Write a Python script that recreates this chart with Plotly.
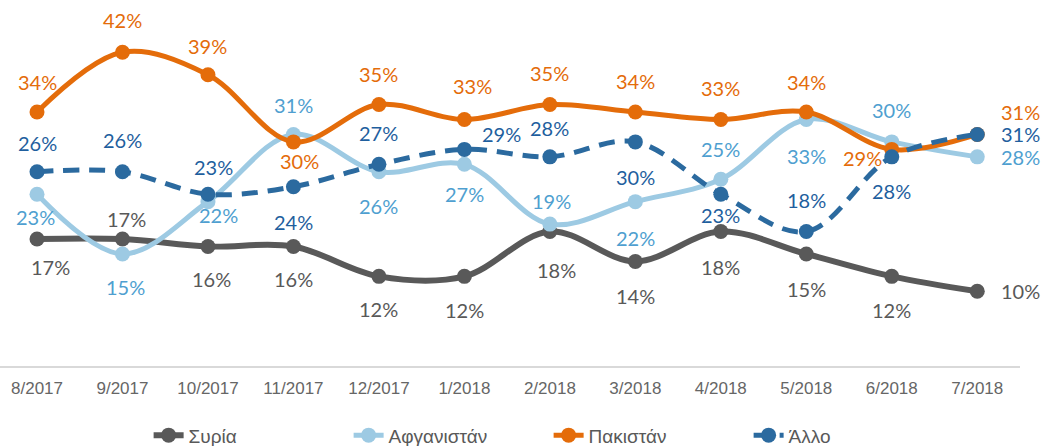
import plotly.graph_objects as go

categories = ["8/2017", "9/2017", "10/2017", "11/2017", "12/2017", "1/2018",
              "2/2018", "3/2018", "4/2018", "5/2018", "6/2018", "7/2018"]
syria = [17, 17, 16, 16, 12, 12, 18, 14, 18, 15, 12, 10]
afghanistan = [23, 15, 22, 31, 26, 27, 19, 22, 25, 33, 30, 28]
pakistan = [34, 42, 39, 30, 35, 33, 35, 34, 33, 34, 29, 31]
other = [26, 26, 23, 24, 27, 29, 28, 30, 23, 18, 28, 31]

# label offsets in pixels (dx right, dy up) -- styling only
syria_lbl = [(13, -28), (4, 20), (4, -33), (0, -33), (0, -33), (0, -34),
             (7, -38), (0, -35), (0, -35), (0, -35), (0, -34), (43, 0)]
afg_lbl = [(-2, -23), (3, -33), (11, -13), (0, 29), (0, -34), (0, -30),
           (2, 23), (0, -36), (0, 30), (0, -36), (0, 32), (43, 0)]
pak_lbl = [(0, 30), (0, 32), (0, 29), (6, -19), (0, 31), (8, 34),
           (0, 32), (0, 31), (0, 32), (0, 30), (-29, -9), (43, 22)]
other_lbl = [(0, 29), (0, 32), (6, 27), (0, -35), (0, 31), (37, 15),
             (0, 29), (0, -35), (0, -21), (0, 32), (0, -34), (43, 0)]

series = [
    dict(name="Συρία", y=syria, line="#595959", label="#595959", dash="solid", lbl=syria_lbl, w=6),
    dict(name="Αφγανιστάν", y=afghanistan, line="#9DCAE3", label="#4F9FD0", dash="solid", lbl=afg_lbl, w=5),
    dict(name="Πακιστάν", y=pakistan, line="#E46C0A", label="#E46C0A", dash="solid", lbl=pak_lbl, w=5),
    dict(name="Άλλο", y=other, line="#2B6A9F", label="#1F5F9E", dash="16px,10px", lbl=other_lbl, w=5),
]

fig = go.Figure()
annotations = []
for s in series:
    fig.add_trace(go.Scatter(
        x=categories, y=s["y"], name=s["name"], mode="lines+markers",
        line=dict(color=s["line"], width=s["w"], shape="spline", smoothing=1.0, dash=s["dash"]),
        marker=dict(color=s["line"], size=15),
        hoverinfo="skip",
    ))
    for c, v, (dx, dy) in zip(categories, s["y"], s["lbl"]):
        annotations.append(dict(
            x=c, y=v, xref="x", yref="y", text=f"{v}%", showarrow=False,
            xanchor="center", yanchor="middle", xshift=dx, yshift=dy,
            font=dict(family="Lato", size=20, color=s["label"]),
        ))

fig.update_layout(
    width=1043, height=446,
    margin=dict(l=0, r=23, t=10, b=80, autoexpand=False),
    plot_bgcolor="white", paper_bgcolor="white",
    annotations=annotations,
    showlegend=True,
    legend=dict(orientation="h", xref="container", yref="container",
                x=0.526, xanchor="center", y=0.024, yanchor="middle",
                entrywidth=155, entrywidthmode="pixels",
                font=dict(family="Liberation Sans, Arial", size=19, color="#595959"),
                traceorder="normal"),
    xaxis=dict(type="category", range=[-0.433, 11.5], showgrid=False, zeroline=False,
               automargin=False,
               showline=True, linecolor="#D9D9D9", linewidth=1.5, ticks="",
               ticklabelstandoff=6,
               tickfont=dict(family="Liberation Sans, Arial", size=17, color="#666666")),
    yaxis=dict(range=[0, 47.66], visible=False, showgrid=False, zeroline=False, automargin=False),
)

fig.write_html(
    "out.html",
    config={"displayModeBar": False},
    post_script="document.body.style.margin='0';document.body.style.overflow='hidden';",
)
